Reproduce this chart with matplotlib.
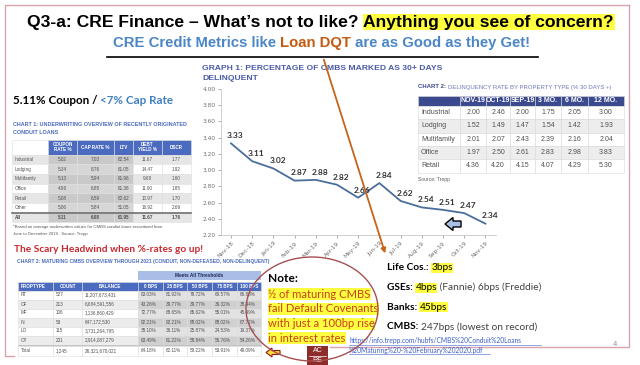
import matplotlib
matplotlib.use("Agg")
import matplotlib.pyplot as plt
from matplotlib.patches import Rectangle, Ellipse, Polygon

# ---- data ----
months = ['Nov-18', 'Dec-18', 'Jan-19', 'Feb-19', 'Mar-19', 'Apr-19', 'May-19',
          'Jun-19', 'Jul-19', 'Aug-19', 'Sep-19', 'Oct-19', 'Nov-19']
dqt_rate = [3.33, 3.11, 3.02, 2.87, 2.88, 2.82, 2.66, 2.84, 2.62, 2.54, 2.51, 2.47, 2.34]

uw_cols = ['COUPON\nRATE %', 'CAP RATE %', 'LTV', 'DEBT\nYIELD %', 'DSCR']
uw_rows = ['Industrial', 'Lodging', 'Multifamily', 'Office', 'Retail', 'Other', 'All']
uw_vals = [['5.02', '7.03', '62.54', '11.67', '1.77'],
           ['5.34', '8.76', '61.05', '14.47', '1.92'],
           ['5.13', '5.94', '61.96', '9.68', '1.60'],
           ['4.96', '6.85', '61.36', '11.90', '1.85'],
           ['5.08', '6.59', '62.62', '10.97', '1.70'],
           ['5.06', '5.84', '51.05', '16.92', '2.69'],
           ['5.11', '6.98', '61.95', '11.67', '1.76']]

dq_cols = ['NOV-19', 'OCT-19', 'SEP-19', '3 MO.', '6 MO.', '12 MO.']
dq_rows = ['Industrial', 'Lodging', 'Multifamily', 'Office', 'Retail']
dq_vals = [['2.00', '2.46', '2.00', '1.75', '2.05', '3.00'],
           ['1.52', '1.49', '1.47', '1.54', '1.42', '1.93'],
           ['2.01', '2.07', '2.43', '2.39', '2.16', '2.04'],
           ['1.97', '2.50', '2.61', '2.83', '2.98', '3.83'],
           ['4.36', '4.20', '4.15', '4.07', '4.29', '5.30']]

mat_cols = ['PROPTYPE', 'COUNT', 'BALANCE', '0 BPS', '25 BPS', '50 BPS', '75 BPS', '100 BPS']
mat_rows = [['RT', '527', '11,207,673,431', '83.03%', '81.92%', '79.72%', '69.57%', '66.88%'],
            ['OF', '213', '6,684,591,556', '43.26%', '39.77%', '39.77%', '39.32%', '38.44%'],
            ['MF', '106', '1,136,860,429', '72.77%', '68.65%', '65.62%', '55.01%', '45.49%'],
            ['IN', '53', '647,172,530', '92.21%', '92.21%', '88.02%', '88.02%', '87.72%'],
            ['LO', '115', '3,731,264,795', '38.10%', '36.11%', '25.87%', '24.53%', '19.37%'],
            ['OT', '231', '2,914,087,279', '63.49%', '61.22%', '58.84%', '56.76%', '54.26%']]
mat_total = ['Total', '1,245', '26,321,670,021', '64.18%', '62.11%', '59.22%', '53.91%', '49.09%']

lender_lines = [[('Life Cos.: ', 'b'), ('3bps', 'hl')],
                [('GSEs: ', 'b'), ('4bps', 'hl'), (' (Fannie) 6bps (Freddie)', 'n')],
                [('Banks: ', 'b'), ('45bps', 'hl')],
                [('CMBS: ', 'b'), ('247bps (lowest on record)', 'n')]]

note_lines = ['\u00bd of maturing CMBS', 'fail Default Covenants',
              'with just a 100bp rise', 'in interest rates']

ARIAL = ['Liberation Sans', 'DejaVu Sans']
CALIBRI = ['Lato', 'DejaVu Sans']
NAVY = '#3b4a8f'
TBLUE = '#4a6bbf'
YELLOW = '#ffff40'

fig = plt.figure(figsize=(6.4, 3.65), dpi=100)
bg = fig.add_axes([0, 0, 1, 1], zorder=0)
bg.set_xlim(0, 640)
bg.set_ylim(365, 0)
bg.axis('off')
fg = fig.add_axes([0, 0, 1, 1], zorder=5)
fg.set_xlim(0, 640)
fg.set_ylim(365, 0)
fg.axis('off')
fg.patch.set_alpha(0)
rend = fig.canvas.get_renderer()


def put_run(ax, x, y, parts, **common):
    # write text pieces one after another on one line
    for s, kw in parts:
        props = dict(common)
        props.update(kw)
        t = ax.text(x, y, s, ha='left', va='center', **props)
        x += t.get_window_extent(renderer=rend).width
    return x


def draw_table(ax, xe, ye, cells, fcs, fs, aligns, colors, weights, ec='#d0d0d0'):
    for r in range(len(ye) - 1):
        for c in range(len(xe) - 1):
            ax.add_patch(Rectangle((xe[c], ye[r]), xe[c + 1] - xe[c], ye[r + 1] - ye[r],
                                   fc=fcs[r][c], ec=ec, lw=0.4))
            a = aligns[r][c]
            if a == 'left':
                tx = xe[c] + 3
            elif a == 'right':
                tx = xe[c + 1] - 4
            else:
                tx = (xe[c] + xe[c + 1]) / 2
            ax.text(tx, (ye[r] + ye[r + 1]) / 2, cells[r][c], ha=a, va='center',
                    fontsize=fs, family=ARIAL, color=colors[r][c],
                    fontweight=weights[r], linespacing=0.9)


# ---- slide border ----
bg.plot([629, 5, 5, 14], [5, 5, 356, 356], color='#d8a3ab', lw=1)
bg.plot([629, 629, 330], [5, 347, 347], color='#d8a3ab', lw=1)

# ---- headline ----
put_run(bg, 27, 22, [("Q3-a: CRE Finance \u2013 What\u2019s not to like? ", {}),
                     ("Anything you see of concern?",
                      {'bbox': dict(fc=YELLOW, ec='none', pad=0.5)})],
        fontsize=12.6, fontweight='bold', family=ARIAL, color='black')
put_run(bg, 113, 43, [("CRE Credit Metrics like ", {'color': '#4a86c8'}),
                      ("Loan DQT", {'color': '#c55a11'}),
                      (" are as Good as they Get!", {'color': '#4a86c8'})],
        fontsize=10.7, fontweight='bold', family=ARIAL)
bg.plot([107, 538], [57, 57], color='black', lw=1.2)

# ---- line chart (Graph 1) ----
bg.text(202, 68, 'GRAPH 1: PERCENTAGE OF CMBS MARKED AS 30+ DAYS', fontsize=6.1,
        fontweight='bold', color='#4b5ba8', family=ARIAL, va='center')
bg.text(202, 78.5, 'DELINQUENT', fontsize=6.1, fontweight='bold', color='#4b5ba8',
        family=ARIAL, va='center')

ax = fig.add_axes([221 / 640, 1 - 235 / 365, (496 - 221) / 640, (235 - 89) / 365], zorder=2)
ax.patch.set_alpha(0)
xs = list(range(len(months)))
ax.plot(xs, dqt_rate, color='#4a6e9c', lw=1.3)
for x, v in zip(xs, dqt_rate):
    ax.annotate(f'{v:.2f}', (x, v), xytext=(3, 3), textcoords='offset points',
                ha='center', va='bottom', fontsize=6, fontweight='bold',
                color='#333333', family=CALIBRI)
ax.set_xlim(-0.47, 12.5)
ax.set_ylim(2.2, 4.0)
ax.set_yticks([2.2 + 0.2 * i for i in range(10)])
ax.set_yticklabels([f'{2.2 + 0.2 * i:.2f}' for i in range(10)])
ax.set_xticks(xs)
ax.set_xticklabels(months, rotation=45, ha='right', rotation_mode='anchor')
ax.tick_params(labelsize=4.2, colors='#707070', length=2, width=0.4, pad=2)
for s in ['top', 'right']:
    ax.spines[s].set_visible(False)
for s in ['left', 'bottom']:
    ax.spines[s].set_color('#c8c8c8')
    ax.spines[s].set_linewidth(0.6)

# blue arrow pointing at the last point
fg.add_patch(Polygon([(445, 224), (453, 217.5), (453, 221), (461, 221), (461, 227),
                      (453, 227), (453, 230.5)], closed=True, fc='#a9c0e4', ec='black', lw=1))

# ---- Chart 2: delinquency by property type ----
put_run(bg, 418, 87, [('CHART 2: ', {'fontweight': 'bold', 'color': NAVY}),
                      ('DELINQUENCY RATE BY PROPERTY TYPE (% 30 DAYS +)', {})],
        fontsize=4.3, color='#6a78b8', family=ARIAL)
dq_x = [418, 460, 486, 510, 535, 561, 588, 624]
dq_y = [96, 106] + [106 + 13.3 * (i + 1) for i in range(len(dq_rows))]
dq_cells = [[''] + dq_cols] + [[n] + v for n, v in zip(dq_rows, dq_vals)]
dq_fc = [[NAVY] * 7] + [['white' if i % 2 == 0 else '#ededed'] * 7 for i in range(len(dq_rows))]
dq_tc = [['white'] * 7] + [['#505050'] * 7 for _ in dq_rows]
dq_al = [['left'] + ['center'] * 6 for _ in dq_y]
draw_table(bg, dq_x, dq_y, dq_cells, dq_fc, 5, dq_al, dq_tc,
           ['bold'] + ['normal'] * 5, ec='#d8d8d8')
bg.text(418, 179, 'Source: Trepp', fontsize=3.6, color='#606060', family=ARIAL, va='center')

# ---- Chart 1: underwriting overview ----
put_run(bg, 13, 101, [('5.11% Coupon / ', {'color': 'black'}),
                      ('<7% Cap Rate', {'color': '#3f80c4'})],
        fontsize=8.4, fontweight='bold', family=CALIBRI)
bg.text(13, 125, 'CHART 1: UNDERWRITING OVERVIEW OF RECENTLY ORIGINATED', fontsize=3.9,
        fontweight='bold', color=TBLUE, family=ARIAL, va='center')
bg.text(13, 133, 'CONDUIT LOANS', fontsize=3.9, fontweight='bold', color=TBLUE,
        family=ARIAL, va='center')
uw_x = [12, 48, 77, 114, 133, 162, 191]
uw_y = [140, 154.5] + [154.5 + 9.7 * (i + 1) for i in range(len(uw_rows))]
uw_cells = [[''] + uw_cols] + [[n] + v for n, v in zip(uw_rows, uw_vals)]
uw_fc = [['white'] + [TBLUE] * 5]
for i in range(len(uw_rows)):
    light = '#e6e6e6' if i % 2 == 0 else 'white'
    dark = '#c9c9c9' if i % 2 == 0 else '#d6d6d6'
    uw_fc.append([light, dark, dark, dark, light, light])
uw_tc = [['white'] * 6] + [['#505050'] * 6 for _ in uw_rows]
uw_al = [['left'] + ['center'] * 5 for _ in uw_y]
draw_table(bg, uw_x, uw_y, uw_cells, uw_fc, 3.3, uw_al, uw_tc,
           ['bold'] + ['normal'] * 6 + ['bold'], ec='#e0e0e0')
bg.plot([12, 191], [uw_y[-2], uw_y[-2]], color='#707070', lw=1.2)
bg.text(13, 227, '*Based on average underwritten values for CMBS conduit loans securitized from',
        fontsize=3.1, color='#555555', family=ARIAL, va='center')
bg.text(13, 234.5, 'June to December 2019.  Source: Trepp', fontsize=3.1, color='#555555',
        family=ARIAL, va='center')

# ---- maturing CMBS table ----
bg.text(14, 249, 'The Scary Headwind when %-rates go up!', fontsize=7.3, fontweight='bold',
        color='#c8282d', family=CALIBRI, va='center')
bg.text(17, 262, 'CHART 2: MATURING CMBS OVERVIEW THROUGH 2021 (CONDUIT, NON-DEFEASED, NON-DELINQUENT)',
        fontsize=3.6, fontweight='bold', color=TBLUE, family=ARIAL, va='center')
mat_x = [18, 53, 82, 138, 163, 187, 212, 237, 261]
bg.add_patch(Rectangle((138, 271), 123, 9, fc='#a9bee6', ec='none'))
bg.text(199.5, 275.5, 'Meets All Thresholds', fontsize=3.4, fontweight='bold',
        color='#1f2a55', family=ARIAL, ha='center', va='center')
mat_y = [282, 290.5] + [290.5 + 9.0 * (i + 1) for i in range(len(mat_rows))]
mat_y.append(mat_y[-1] + 1.5)
mat_y.append(mat_y[-1] + 10)
cells = [mat_cols] + mat_rows + [[''] * 8] + [mat_total]
fcs = [[TBLUE] * 8]
for i in range(len(mat_rows)):
    light = 'white' if i % 2 == 0 else '#ececec'
    dark = '#e2e2e2' if i % 2 == 0 else '#d0d0d0'
    fcs.append([light] * 3 + [dark] * 5)
fcs.append(['#666666'] * 8)
fcs.append(['white'] * 8)
tcs = [['white'] * 8] + [['#505050'] * 8 for _ in range(len(mat_rows) + 2)]
mat_al = [['left'] + ['center'] * 7] + [['left'] * 8 for _ in range(len(mat_rows) + 2)]
draw_table(bg, mat_x, mat_y, cells, fcs, 3.3, mat_al, tcs,
           ['bold'] + ['normal'] * (len(mat_rows) + 2), ec='#dcdcdc')

# yellow arrow pointing at the Total row
fg.add_patch(Polygon([(266, 352.5), (272, 348), (272, 350.5), (280, 350.5), (280, 354.5),
                      (272, 354.5), (272, 357)], closed=True, fc='#ffd93a', ec='#8b1a1a', lw=0.8))

# ---- note in the circle ----
fg.add_patch(Ellipse((312, 309), 132, 104, fc='none', ec='#a85050', lw=1))
bg.text(268, 279, 'Note:', fontsize=8.6, fontweight='bold', color='black', family=CALIBRI,
        va='center')
for i, line in enumerate(note_lines):
    bg.text(268, 294 + 14.8 * i, line, fontsize=8.1, color='#c8401a', family=CALIBRI,
            va='center', bbox=dict(fc=YELLOW, ec='none', pad=0.3))

# ACRE logo
bg.add_patch(Rectangle((307, 346), 21, 19, fc='#8e2b2b', ec='none'))
bg.text(317.5, 351, 'AC', fontsize=5, color='white', ha='center', va='center', family=ARIAL)
bg.plot([309, 326], [355.5, 355.5], color='white', lw=0.5)
bg.text(317.5, 360.5, 'RE', fontsize=5, color='white', ha='center', va='center', family=ARIAL)

# ---- spreads ----
for i, parts in enumerate(lender_lines):
    runs = []
    for s, k in parts:
        if k == 'b':
            runs.append((s, {'fontweight': 'bold'}))
        elif k == 'hl':
            runs.append((s, {'bbox': dict(fc=YELLOW, ec='none', pad=0.4)}))
        else:
            runs.append((s, {'color': '#404040'}))
    put_run(bg, 387, 268 + 19.6 * i, runs, fontsize=7.3, family=CALIBRI, color='black')

bg.text(349, 341, 'https://info.trepp.com/hubfs/CMBS%20Conduit%20Loans', fontsize=4.8,
        color='#3b5fc7', family=CALIBRI, va='center')
bg.text(349, 350, '%20Maturing%20-%20February%202020.pdf', fontsize=4.8,
        color='#3b5fc7', family=CALIBRI, va='center')
bg.plot([349, 541], [344.5, 344.5], color='#3b5fc7', lw=0.4)
bg.plot([349, 490], [353.5, 353.5], color='#3b5fc7', lw=0.4)
bg.text(613, 344, '4', fontsize=5.5, color='#909090', family=ARIAL, va='center')

# orange arrow from the headline down past the chart
fg.annotate('', xy=(386, 256), xytext=(323, 57),
            arrowprops=dict(arrowstyle='-|>', color='#c5651b', lw=1.3, mutation_scale=7))

fig.savefig('out.png', dpi=100)
